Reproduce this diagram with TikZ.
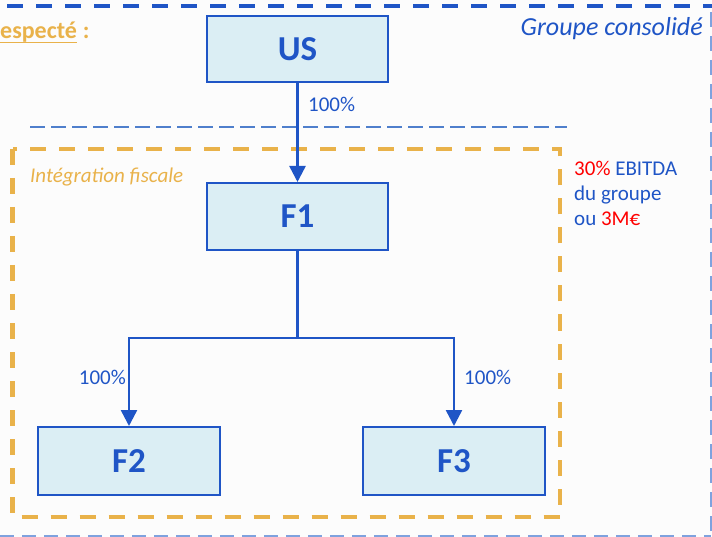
\documentclass[tikz,border=0pt]{standalone}
\usepackage{fontspec}
\setmainfont{Carlito}
\usetikzlibrary{arrows.meta,calc}
\definecolor{bleu}{HTML}{1F55C6}
\definecolor{bleutrait}{HTML}{4F7FCC}
\definecolor{bleupale}{HTML}{7FA2DE}
\definecolor{fond}{HTML}{DBEEF4}
\definecolor{ocre}{HTML}{E9B24A}
\definecolor{rouge}{HTML}{FF0000}
\definecolor{papier}{HTML}{FCFCFC}
\begin{document}
\begin{tikzpicture}[x=1pt,y=-1pt,
  entite/.style={draw=bleu, line width=2pt, fill=fond, minimum width=181pt,
    minimum height=67pt, inner sep=0pt, text=bleu,
    font=\fontsize{35}{40}\selectfont\bfseries},
  pointe/.tip={Triangle[width=16pt,length=16pt]},
  ligne/.style={draw=bleu, line width=2.5pt},
  lien/.style={ligne, -pointe},
  pct/.style={font=\fontsize{21}{25}\selectfont, text=bleu, inner sep=0pt},
  note/.style={font=\fontsize{21}{25}\selectfont, text=bleu, inner sep=0pt, anchor=base west}]
\useasboundingbox[fill=papier] (0,0) rectangle (712,537);

% outer frame of the consolidated group
\draw[bleu, line width=4.5pt, dash pattern=on 16pt off 13pt] (7,6) -- (712,6);
\draw[bleupale, line width=1.5pt, dash pattern=on 15pt off 9pt] (711,12) -- (711,537);
\draw[bleupale, line width=1.5pt, dash pattern=on 14pt off 8pt] (0,536) -- (711,536);

% separation line
\draw[bleutrait, line width=2pt, dash pattern=on 15pt off 6pt] (30,127) -- (567,127);

% tax consolidation perimeter
\draw[ocre, line width=4.5pt, dash pattern=on 16pt off 13pt] (12.5,149) rectangle (560,517);

% headings
\node[anchor=base west, inner sep=0pt, text=ocre, font=\fontsize{24}{29}\selectfont\bfseries] (esp) at (0,39) {especté};
\node[anchor=base west, inner sep=0pt, text=ocre, font=\fontsize{24}{29}\selectfont\bfseries] (dp) at (esp.base east) {\ :};
\draw[ocre, line width=1.4pt] ($(esp.base west)+(0,3.5)$) -- ($(esp.base east)+(0,3.5)$);
\node[anchor=base east, inner sep=0pt, text=bleu, font=\fontsize{26}{31}\selectfont\itshape] (gc) at (703,36) {Groupe consolidé};
\node[anchor=base west, inner sep=0pt, text=ocre, font=\fontsize{21}{25}\selectfont\itshape] (if) at (30,183) {Intégration fiscale};

% entities
\node[entite, minimum height=66pt] (us) at (297.5,49) {US};
\node[entite] (f1) at (297.5,216.5) {F1};
\node[entite, minimum width=182pt, minimum height=68pt] (f2) at (129,461) {F2};
\node[entite, minimum width=182pt, minimum height=68pt] (f3) at (454,461) {F3};

% holdings
\coordinate (j) at (297.5,338);
\draw[lien] (us) -- (f1);
\draw[ligne] (f1.south) -- (j);
\draw[ligne, pointe-pointe] (f2.north) |- (j) -| (f3.north);

\node[pct, anchor=base west] (p1) at (308,112) {100\%};
\node[pct, anchor=base east] (p2) at (126,384) {100\%};
\node[pct, anchor=base west] (p3) at (464,384) {100\%};

% interest deduction cap
\node[note] (n1) at (574,176) {\textcolor{rouge}{30\%} EBITDA};
\node[note] (n2) at (574,201) {du groupe};
\node[note] (n3) at (574,226) {ou \textcolor{rouge}{3M€}};
\end{tikzpicture}
\end{document}
